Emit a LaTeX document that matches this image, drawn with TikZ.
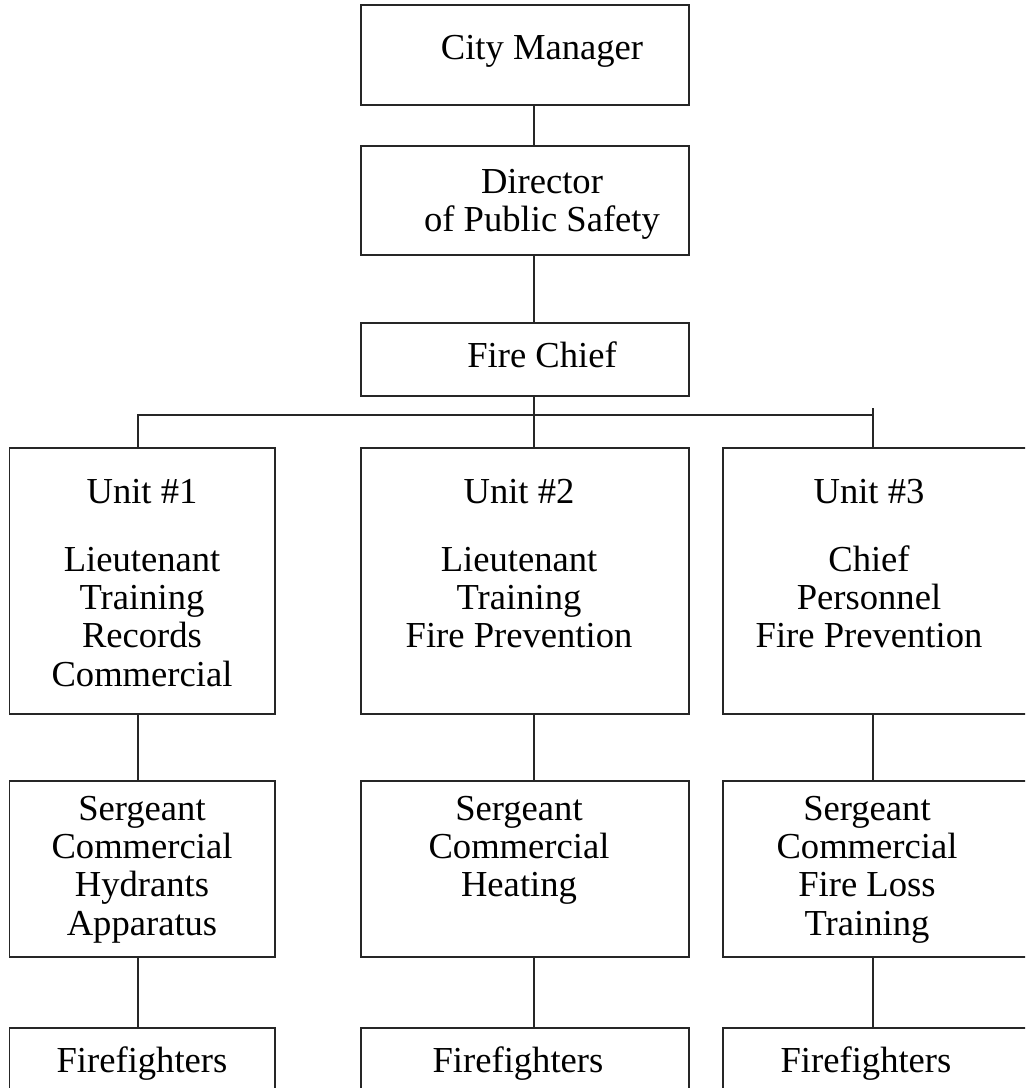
\documentclass[tikz,border=0pt]{standalone}
\usepackage{fontspec}
\setmainfont{Liberation Serif}
\begin{document}
\begin{tikzpicture}[x=0.5pt,y=-0.5pt,
  box/.style={draw=black!85, line width=0.65pt, rectangle, inner sep=0pt, outer sep=0pt},
  conn/.style={draw=black!85, line width=0.65pt},
  lbl/.style={anchor=base, inner sep=0pt, font=\fontsize{18.3pt}{19.2pt}\selectfont}]
\clip (0,0) rectangle (1025,1088);
\fill[white] (0,0) rectangle (1025,1088);
% column coordinates
\coordinate (colA) at (138,0);
\coordinate (colB) at (534,0);
\coordinate (colC) at (873,0);
% boxes
\node[box, minimum width=164pt, minimum height=50pt] (cm) at (525,55) {};
\node[box, minimum width=164pt, minimum height=54.5pt] (dir) at (525,200.5) {};
\node[box, minimum width=164pt, minimum height=36.5pt] (fc) at (525,359.5) {};
\node[box, minimum width=132.75pt, minimum height=133pt] (u1) at (142.25,581) {};
\node[box, minimum width=164pt, minimum height=133pt] (u2) at (525,581) {};
\node[box, minimum width=156pt, minimum height=133pt] (u3) at (879,581) {};
\node[box, minimum width=132.75pt, minimum height=88pt] (s1) at (142.25,869) {};
\node[box, minimum width=164pt, minimum height=88pt] (s2) at (525,869) {};
\node[box, minimum width=156pt, minimum height=88pt] (s3) at (879,869) {};
\node[box, minimum width=132.75pt, minimum height=36pt] (f1) at (142.25,1064) {};
\node[box, minimum width=164pt, minimum height=36pt] (f2) at (525,1064) {};
\node[box, minimum width=156pt, minimum height=36pt] (f3) at (879,1064) {};
% labels
\node[lbl] (tcm) at (542,59) {City Manager};
\node[lbl] (tdir) at (542,193) {\begin{tabular}[t]{@{}c@{}}Director\\of Public Safety\end{tabular}};
\node[lbl] (tfc) at (542,367) {Fire Chief};
\node[lbl] (tu1) at (142,503) {\begin{tabular}[t]{@{}c@{}}Unit \#1\\[14.8pt]Lieutenant\\Training\\Records\\Commercial\end{tabular}};
\node[lbl] (tu2) at (519,503) {\begin{tabular}[t]{@{}c@{}}Unit \#2\\[14.8pt]Lieutenant\\Training\\Fire Prevention\end{tabular}};
\node[lbl] (tu3) at (869,503) {\begin{tabular}[t]{@{}c@{}}Unit \#3\\[14.8pt]Chief\\Personnel\\Fire Prevention\end{tabular}};
\node[lbl] (ts1) at (142,820) {\begin{tabular}[t]{@{}c@{}}Sergeant\\Commercial\\Hydrants\\Apparatus\end{tabular}};
\node[lbl] (ts2) at (519,820) {\begin{tabular}[t]{@{}c@{}}Sergeant\\Commercial\\Heating\end{tabular}};
\node[lbl] (ts3) at (867,820) {\begin{tabular}[t]{@{}c@{}}Sergeant\\Commercial\\Fire Loss\\Training\end{tabular}};
\node[lbl] (tf1) at (142,1072) {Firefighters};
\node[lbl] (tf2) at (518,1072) {Firefighters};
\node[lbl] (tf3) at (866,1072) {Firefighters};
% connectors
\coordinate (bus) at (534,415);
\coordinate (busTop) at (873,408);
\draw[conn] (cm.south -| colB) -- (dir.north -| colB);
\draw[conn] (dir.south -| colB) -- (fc.north -| colB);
\draw[conn] (fc.south -| colB) -- (u2.north -| colB);
\draw[conn] (u1.north -| colA) |- (bus) -- (bus -| colC);
\draw[conn] (busTop) -- (u3.north -| colC);
\draw[conn] (u1.south -| colA) -- (s1.north -| colA);
\draw[conn] (u2.south -| colB) -- (s2.north -| colB);
\draw[conn] (u3.south -| colC) -- (s3.north -| colC);
\draw[conn] (s1.south -| colA) -- (f1.north -| colA);
\draw[conn] (s2.south -| colB) -- (f2.north -| colB);
\draw[conn] (s3.south -| colC) -- (f3.north -| colC);
\end{tikzpicture}
\end{document}
